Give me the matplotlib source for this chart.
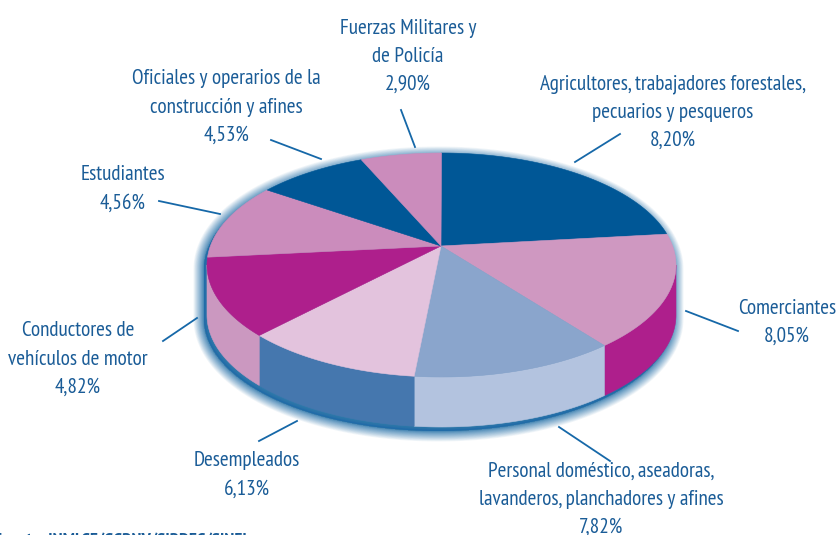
import numpy as np
import matplotlib
matplotlib.use("Agg")
import matplotlib.pyplot as plt
from matplotlib.patches import Polygon

plt.rcParams["font.family"] = ["PT Sans Narrow", "Roboto Condensed", "Archivo Narrow", "Liberation Sans"]

# printed percentages, clockwise from the top of the pie
names = [
    ["Agricultores, trabajadores forestales,", "pecuarios y pesqueros"],
    ["Comerciantes"],
    ["Personal doméstico, aseadoras,", "lavanderos, planchadores y afines"],
    ["Desempleados"],
    ["Conductores de", "vehículos de motor"],
    ["Estudiantes"],
    ["Oficiales y operarios de la", "construcción y afines"],
    ["Fuerzas Militares y", "de Policía"],
]
values = [8.20, 8.05, 7.82, 6.13, 4.82, 4.56, 4.53, 2.90]
# the drawing is not to scale, these are the sweeps seen on the rim
sweeps = [74, 62, 50.7, 44.3, 43, 38, 28, 20]
top_colors = ["#005796", "#CF98C1", "#8AA5CC", "#E3C3DD", "#AE1F8C", "#CB8CBC", "#005796", "#CB8CBC"]
side_colors = ["#005796", "#AE1F8C", "#B3C3DF", "#4577AE", "#CB98C0", "#CB8CBC", "#005796", "#CB8CBC"]

label_pos = [(673, 84), (787, 308), (601, 471), (247, 461), (78, 331), (123, 175), (226, 79), (408, 28)]
leaders = [
    ((620, 134), (575, 162)),
    ((686, 311), (738, 331)),
    ((559, 427), (610, 461)),
    ((297, 421), (259, 441)),
    ((163, 341), (197, 318)),
    ((159, 201), (220, 214)),
    ((271, 140), (321, 159)),
    ((401, 110), (415, 147)),
]

TEXT = "#1A5C97"
CX, CY, RX, RY = 441.5, 265, 234.5, 112
APEX = (441, 246)
DEPTH = 50


def rim(a, drop=0):
    t = np.radians(a)
    return np.column_stack([CX + RX * np.cos(t), CY - RY * np.sin(t) + drop])


fig = plt.figure(figsize=(8.39, 5.35), dpi=100)
ax = fig.add_axes([0, 0, 1, 1])
ax.set_xlim(0, 839)
ax.set_ylim(535, 0)
ax.axis("off")

# soft blue halo round the whole solid, stronger low on the left
upper = rim(np.linspace(0, 180, 120))
lower = rim(np.linspace(180, 360, 120), DEPTH)
outline = np.vstack([upper, lower]) + np.array([-3.0, 4.0])
for k in np.arange(24, 0, -1):
    lw = 20 * (k / 24) ** 1.8 + 1
    ax.add_patch(Polygon(outline, closed=True, fc="#1B6CA8", ec="#1B6CA8", lw=lw * 0.72,
                         alpha=0.06, joinstyle="round", zorder=1))

edges = 90 - np.cumsum([0] + sweeps)
for i in range(len(sweeps)):
    a0, a1 = edges[i], edges[i + 1]
    # front wall only exists below the horizontal axis of the ellipse
    lo, hi = max(a1, -180), min(a0, 0)
    if lo < hi:
        arc = np.linspace(hi, lo, 60)
        wall = np.vstack([rim(arc), rim(arc[::-1], DEPTH)])
        ax.add_patch(Polygon(wall, closed=True, fc=side_colors[i], ec=side_colors[i], lw=0.4, zorder=2))

for i in range(len(sweeps)):
    arc = np.linspace(edges[i], edges[i + 1], 80)
    top = np.vstack([[APEX], rim(arc)])
    ax.add_patch(Polygon(top, closed=True, fc=top_colors[i], ec=top_colors[i], lw=0.4, zorder=3))

for (start, end) in leaders:
    ax.plot([start[0], end[0]], [start[1], end[1]], color="#1668A8", lw=1.3, zorder=4)

for i, v in enumerate(values):
    lines = names[i] + [f"{v:.2f}%".replace(".", ",")]
    x, y = label_pos[i]
    for j, line in enumerate(lines):
        ax.text(x, y + j * 28.3, line, ha="center", va="center", fontsize=15.2, color=TEXT)

ax.text(-6, 541, "Fuente: INMLCF/GCRNV/SIRDEC/SINEI", ha="left", va="center", fontsize=13.3,
        color=TEXT, fontweight="bold")

fig.savefig("out.png", dpi=100)
